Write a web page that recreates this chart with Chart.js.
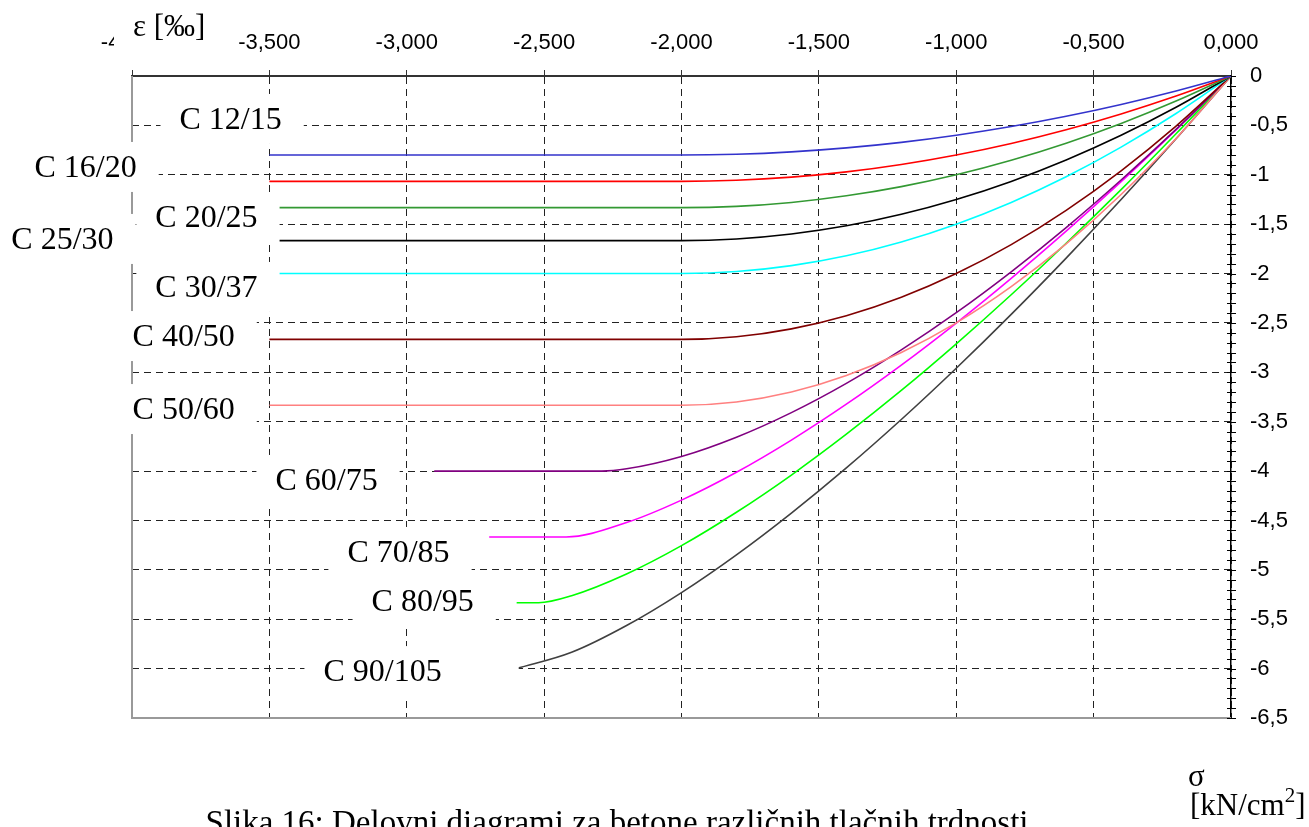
<!DOCTYPE html>
<html>
<head>
<meta charset="utf-8">
<script src="https://cdn.jsdelivr.net/npm/chart.js@4.4.0/dist/chart.umd.min.js"></script>
<style>
  html, body { margin: 0; padding: 0; background: #fff; }
</style>
</head>
<body>
<canvas id="chart" width="1309" height="827"></canvas>
<script>
// strain points [‰] and stress values [kN/cm2]
const strainNormal = [0, -0.2, -0.4, -0.6, -0.8, -1.0, -1.2, -1.4, -1.6, -1.8, -2.0, -3.5];
const stressC12 = [0, -0.152, -0.288, -0.408, -0.512, -0.6, -0.672, -0.728, -0.768, -0.792, -0.8, -0.8];
const stressC16 = [0, -0.203, -0.384, -0.544, -0.683, -0.8, -0.896, -0.971, -1.024, -1.056, -1.067, -1.067];
const stressC20 = [0, -0.253, -0.48, -0.68, -0.853, -1.0, -1.12, -1.213, -1.28, -1.32, -1.333, -1.333];
const stressC25 = [0, -0.317, -0.6, -0.85, -1.067, -1.25, -1.4, -1.517, -1.6, -1.65, -1.667, -1.667];
const stressC30 = [0, -0.38, -0.72, -1.02, -1.28, -1.5, -1.68, -1.82, -1.92, -1.98, -2.0, -2.0];
const stressC40 = [0, -0.507, -0.96, -1.36, -1.707, -2.0, -2.24, -2.427, -2.56, -2.64, -2.667, -2.667];
const stressC50 = [0, -0.633, -1.2, -1.7, -2.133, -2.5, -2.8, -3.033, -3.2, -3.3, -3.333, -3.333];

const strainC60 = [0, -0.2, -0.4, -0.6, -0.8, -1.0, -1.2, -1.4, -1.6, -1.8, -2.0, -2.2, -2.29, -2.9];
const stressC60 = [0, -0.541, -1.053, -1.534, -1.982, -2.396, -2.773, -3.112, -3.408, -3.657, -3.852, -3.977, -4.0, -4.0];
const strainC70 = [0, -0.2, -0.4, -0.6, -0.8, -1.0, -1.2, -1.4, -1.6, -1.8, -2.0, -2.2, -2.42, -2.7];
const stressC70 = [0, -0.545, -1.069, -1.57, -2.048, -2.501, -2.927, -3.323, -3.686, -4.012, -4.294, -4.521, -4.667, -4.667];
const strainC80 = [0, -0.2, -0.4, -0.6, -0.8, -1.0, -1.2, -1.4, -1.6, -1.8, -2.0, -2.2, -2.4, -2.52, -2.6];
const stressC80 = [0, -0.585, -1.15, -1.693, -2.215, -2.712, -3.184, -3.627, -4.04, -4.417, -4.755, -5.042, -5.262, -5.333, -5.333];
const strainC90 = [0, -0.2, -0.4, -0.6, -0.8, -1.0, -1.2, -1.4, -1.6, -1.8, -2.0, -2.2, -2.4, -2.6];
const stressC90 = [0, -0.636, -1.251, -1.844, -2.414, -2.959, -3.478, -3.968, -4.425, -4.848, -5.23, -5.564, -5.835, -6.0];

const classNames = ['C 12/15', 'C 16/20', 'C 20/25', 'C 25/30', 'C 30/37', 'C 40/50',
  'C 50/60', 'C 60/75', 'C 70/85', 'C 80/95', 'C 90/105'];
const classColors = ['#3333cc', '#ff0000', '#339933', '#000000', '#00ffff', '#800000',
  '#ff8080', '#800080', '#ff00ff', '#00ff00', '#404040'];

// label anchors in axis units (strain, stress)
const labelStrain = [-3.641, -4.169, -3.729, -4.253, -3.729, -3.812, -3.812, -3.292, -3.03, -2.942, -3.088];
const labelStress = [-0.445, -0.931, -1.438, -1.66, -2.146, -2.643, -3.382, -4.1, -4.829, -5.326, -6.035];

const strainTicks = { min: -4, max: 0, step: 0.5 };
const stressTicks = { min: -6.5, max: 0, step: 0.5 };

const series = [
  [strainNormal, stressC12], [strainNormal, stressC16], [strainNormal, stressC20],
  [strainNormal, stressC25], [strainNormal, stressC30], [strainNormal, stressC40],
  [strainNormal, stressC50], [strainC60, stressC60], [strainC70, stressC70],
  [strainC80, stressC80], [strainC90, stressC90]
];

const datasets = series.map(([xs, ys], i) => ({
  label: classNames[i],
  data: xs.map((x, k) => ({ x: x, y: ys[k] })),
  borderColor: classColors[i],
  borderWidth: 1.6,
  pointRadius: 0,
  showLine: true,
  cubicInterpolationMode: 'monotone',
  fill: false
}));

const fmtStress = v => String(Math.round(v * 10) / 10).replace('.', ',');

const notes = {
  id: 'notes',
  beforeDatasetsDraw(chart) {
    const { ctx, chartArea: a } = chart;
    ctx.save();
    ctx.strokeStyle = '#999';
    ctx.lineWidth = 2;
    ctx.beginPath();
    ctx.moveTo(a.left, a.top);
    ctx.lineTo(a.left, a.bottom);
    ctx.lineTo(a.right, a.bottom);
    ctx.stroke();
    // small ticks crossing the stress axis every 0,1
    const ys = chart.scales.y;
    ctx.strokeStyle = '#000';
    ctx.lineWidth = 1;
    for (let i = 0; i <= 65; i++) {
      const py = Math.round(ys.getPixelForValue(-i / 10)) + 0.5;
      ctx.beginPath();
      ctx.moveTo(a.right - 4, py);
      ctx.lineTo(a.right + 5, py);
      ctx.stroke();
    }
    ctx.restore();
  },
  afterDatasetsDraw(chart) {
    const { ctx } = chart;
    const xs = chart.scales.x, ys = chart.scales.y;
    ctx.save();
    ctx.font = '32px "Liberation Serif", "Times New Roman", serif';
    ctx.textBaseline = 'middle';
    ctx.textAlign = 'left';
    classNames.forEach((name, i) => {
      const cx = xs.getPixelForValue(labelStrain[i]);
      const cy = ys.getPixelForValue(labelStress[i]);
      const w = ctx.measureText(name).width;
      const extra = i === 10 ? 55 : 0;
      ctx.fillStyle = '#fff';
      ctx.fillRect(cx - w / 2 - 19, cy - 26, w + 41 + extra, 50);
      ctx.fillStyle = '#000';
      ctx.fillText(name, cx - w / 2, cy + 1);
    });

    // axis titles
    ctx.fillStyle = '#fff';
    ctx.fillRect(114, 0, 100, 60);
    ctx.fillStyle = '#000';
    ctx.font = '31px "Liberation Serif", "Times New Roman", serif';
    ctx.textBaseline = 'alphabetic';
    ctx.fillText('\u03b5 [\u2030]', 133, 36);

    ctx.font = '31px "Liberation Serif", "Times New Roman", serif';
    ctx.fillText('\u03c3', 1188, 786);
    const base = '[kN/cm';
    ctx.fillText(base, 1190, 815);
    let px = 1190 + ctx.measureText(base).width;
    ctx.font = '21px "Liberation Serif", "Times New Roman", serif';
    ctx.fillText('2', px, 802);
    px += ctx.measureText('2').width;
    ctx.font = '31px "Liberation Serif", "Times New Roman", serif';
    ctx.fillText(']', px, 815);

    // caption
    ctx.font = '33px "Liberation Serif", "Times New Roman", serif';
    ctx.textAlign = 'center';
    ctx.fillText('Slika 16: Delovni diagrami za betone različnih tlačnih trdnosti', 617, 833);
    ctx.restore();
  }
};

new Chart(document.getElementById('chart'), {
  type: 'scatter',
  data: { datasets: datasets },
  plugins: [notes],
  options: {
    responsive: false,
    animation: false,
    layout: { padding: { left: 132, top: 0, right: 0, bottom: 109 } },
    plugins: { legend: { display: false }, tooltip: { enabled: false } },
    scales: {
      x: {
        type: 'linear',
        position: 'top',
        min: strainTicks.min,
        max: strainTicks.max,
        afterFit(scale) { scale.height = 76; },
        ticks: {
          stepSize: strainTicks.step,
          color: '#000',
          padding: 14,
          maxRotation: 0,
          font: { family: '"Liberation Sans", Arial, sans-serif', size: 22 },
          callback: v => v.toFixed(3).replace('.', ',')
        },
        grid: { color: '#222', lineWidth: 1, tickColor: '#333', tickLength: 6 },
        border: { color: '#333', width: 2, dash: [7, 5] }
      },
      y: {
        type: 'linear',
        position: 'right',
        min: stressTicks.min,
        max: stressTicks.max,
        afterFit(scale) { scale.width = 78; },
        ticks: {
          stepSize: stressTicks.step,
          color: '#000',
          padding: 19,
          autoSkip: false,
          font: { family: '"Liberation Sans", Arial, sans-serif', size: 22 },
          callback: v => fmtStress(v)
        },
        grid: { color: '#222', lineWidth: 1, drawTicks: false },
        border: { color: '#000', width: 1.5, dash: [7, 5] }
      }
    }
  }
});
</script>
</body>
</html>
